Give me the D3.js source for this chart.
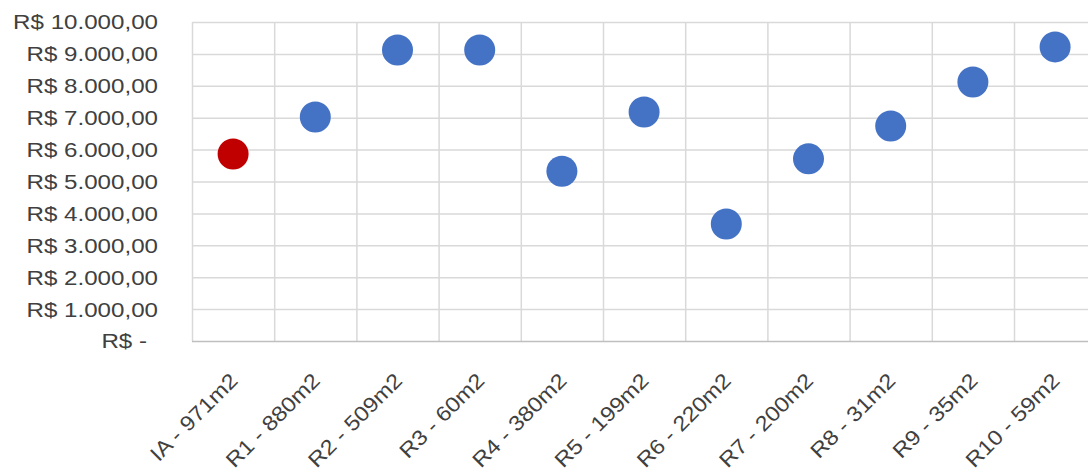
<!DOCTYPE html>
<meta charset="utf-8">
<style>
  body { margin: 0; background: #fff; }
  text { font-family: "Liberation Sans", Arial, sans-serif; fill: #404040; }
</style>
<svg width="1088" height="472"></svg>
<script src="https://d3js.org/d3.v7.min.js"></script>
<script>

// categories (imóvel avaliado + referências) and price per m2
var categories = ["IA - 971m2", "R1 - 880m2", "R2 - 509m2", "R3 - 60m2", "R4 - 380m2",
                  "R5 - 199m2", "R6 - 220m2", "R7 - 200m2", "R8 - 31m2", "R9 - 35m2", "R10 - 59m2"];
var values = [5860, 7020, 9120, 9120, 5320, 7180, 3670, 5710, 6740, 8120, 9220];
var yTicks = [0, 1000, 2000, 3000, 4000, 5000, 6000, 7000, 8000, 9000, 10000];

var highlight = "IA - 971m2";

var svg = d3.select("svg"),
    plotLeft = 192, plotTop = 22, plotBottom = 341,
    bandW = 82.2,
    stretch = 1.15;

var x = d3.scaleBand()
    .domain(categories)
    .range([plotLeft, plotLeft + bandW * categories.length]);

var y = d3.scaleLinear()
    .domain([0, 10000])
    .range([plotBottom, plotTop]);

var br = d3.formatLocale({
    decimal: ",",
    thousands: ".",
    grouping: [3],
    currency: ["R$ ", ""]
});
var money = br.format("$,.2f");

// grid
var grid = svg.append("g").attr("class", "grid");

grid.selectAll("line.h")
    .data(yTicks.filter(function(d) { return d > 0; }))
  .enter().append("line")
    .attr("class", "h")
    .attr("x1", x.range()[0])
    .attr("x2", x.range()[1])
    .attr("y1", function(d) { return y(d) + 0.5; })
    .attr("y2", function(d) { return y(d) + 0.5; })
    .attr("stroke", "#d9d9d9")
    .attr("stroke-width", 1.5);

grid.selectAll("line.v")
    .data(categories)
  .enter().append("line")
    .attr("class", "v")
    .attr("x1", function(d) { return x(d) + 0.5; })
    .attr("x2", function(d) { return x(d) + 0.5; })
    .attr("y1", y(10000))
    .attr("y2", y(0))
    .attr("stroke", "#d9d9d9")
    .attr("stroke-width", 1.5);

// x axis baseline
svg.append("line")
    .attr("x1", x.range()[0])
    .attr("x2", x.range()[1])
    .attr("y1", y(0) + 0.5)
    .attr("y2", y(0) + 0.5)
    .attr("stroke", "#bfbfbf")
    .attr("stroke-width", 1.5);

// y axis labels
var yAxis = svg.append("g")
    .attr("transform", "translate(158,0)")
    .call(d3.axisLeft(y).tickValues(yTicks).tickSize(0).tickPadding(0)
      .tickFormat(function(d) { return d === 0 ? "R$ -" : money(d); }));
yAxis.select(".domain").remove();
yAxis.selectAll("text")
    .attr("x", null)
    .attr("dy", null)
    .attr("fill", null)
    .attr("font-size", 21)
    .attr("font-family", null)
    .attr("dominant-baseline", "central")
    .attr("transform", function(d) { return "translate(" + (d === 0 ? -11 : 0) + ",0) scale(" + stretch + ",1)"; });

// x axis labels
var xAxis = svg.append("g")
    .attr("transform", "translate(0," + plotBottom + ")")
    .call(d3.axisBottom(x).tickSize(0).tickPadding(0));
xAxis.select(".domain").remove();
xAxis.selectAll("text")
    .attr("y", null)
    .attr("dy", null)
    .attr("fill", null)
    .attr("font-size", 21)
    .attr("font-family", null)
    .attr("text-anchor", "end")
    .attr("transform", "translate(6,41) rotate(-45) scale(1.12,1)");

// points
svg.append("g")
  .selectAll("circle")
    .data(categories)
  .enter().append("circle")
    .attr("cx", function(d) { return x(d) + x.bandwidth() / 2; })
    .attr("cy", function(d, i) { return y(values[i]); })
    .attr("r", 15.5)
    .attr("fill", function(d) { return d === highlight ? "#c00000" : "#4472c4"; });

</script>
